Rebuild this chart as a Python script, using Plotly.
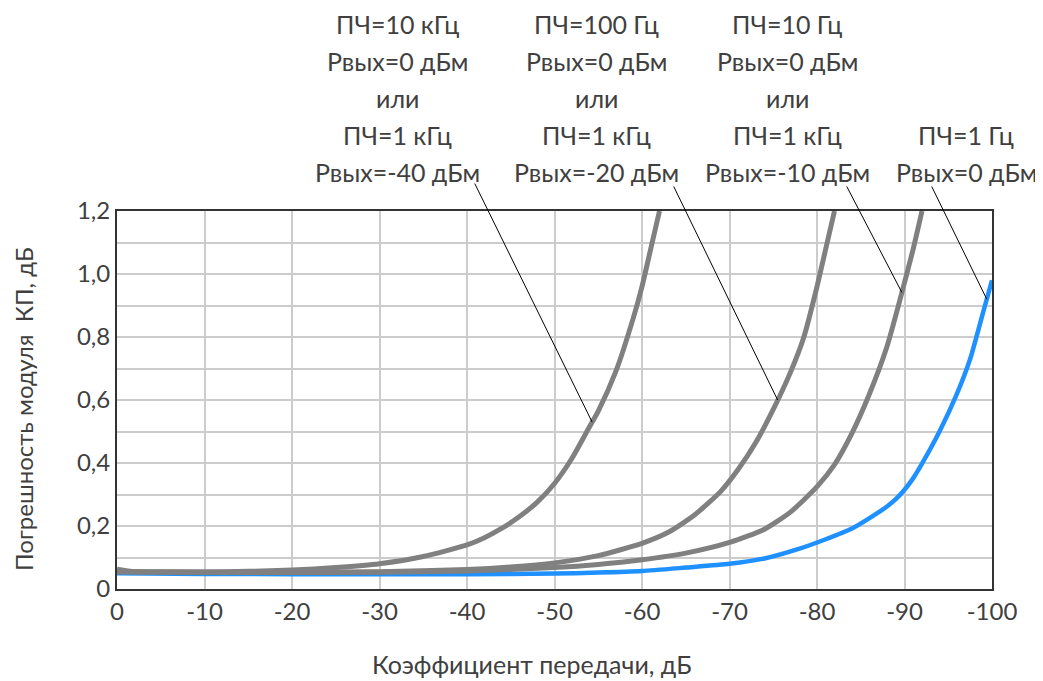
import numpy as np
import plotly.graph_objects as go

# ---- data ----
x_10k = [0, -2, -5, -10, -15, -20, -25, -30, -35, -40, -42, -44, -46, -48, -50, -52, -54, -55, -57, -59, -60, -61, -62]
y_10k = [0.063, 0.055, 0.054, 0.054, 0.056, 0.060, 0.068, 0.080, 0.103, 0.140, 0.163, 0.193, 0.230, 0.275,
         0.335, 0.415, 0.515, 0.565, 0.690, 0.860, 0.960, 1.080, 1.200]

x_100 = [0, -10, -20, -30, -40, -45, -50, -55, -60, -63, -66, -69, -71, -73, -75, -77, -78.5, -80, -81, -82]
y_100 = [0.055, 0.053, 0.053, 0.055, 0.062, 0.070, 0.083, 0.106, 0.145, 0.180, 0.235, 0.310, 0.380, 0.465,
         0.570, 0.690, 0.800, 0.960, 1.080, 1.200]

x_10 = [0, -10, -20, -30, -40, -50, -55, -60, -65, -70, -74, -77, -80, -82, -84, -86, -88, -89.5, -91, -92]
y_10 = [0.055, 0.053, 0.052, 0.053, 0.057, 0.068, 0.078, 0.093, 0.114, 0.148, 0.190, 0.245, 0.325, 0.395,
        0.495, 0.620, 0.770, 0.920, 1.080, 1.200]

x_1 = [0, -10, -20, -30, -40, -50, -55, -60, -65, -70, -74, -78, -81, -84, -86, -88, -89, -90, -91, -92,
       -94, -96, -97.5, -99, -100]
y_1 = [0.050, 0.048, 0.047, 0.047, 0.047, 0.049, 0.052, 0.057, 0.068, 0.080, 0.097, 0.128, 0.158, 0.192,
       0.225, 0.262, 0.285, 0.315, 0.352, 0.398, 0.500, 0.620, 0.730, 0.880, 0.980]

x_ticks = [0, -10, -20, -30, -40, -50, -60, -70, -80, -90, -100]
x_ticktext = ["0", "-10", "-20", "-30", "-40", "-50", "-60", "-70", "-80", "-90", "-100"]
y_ticks = [0, 0.2, 0.4, 0.6, 0.8, 1.0, 1.2]
y_ticktext = ["0", "0,2", "0,4", "0,6", "0,8", "1,0", "1,2"]

labels = [
    ["ПЧ=10 кГц", "Рвых=0 дБм", "или", "ПЧ=1 кГц", "Рвых=-40 дБм"],
    ["ПЧ=100 Гц", "Рвых=0 дБм", "или", "ПЧ=1 кГц", "Рвых=-20 дБм"],
    ["ПЧ=10 Гц", "Рвых=0 дБм", "или", "ПЧ=1 кГц", "Рвых=-10 дБм"],
    ["ПЧ=1 Гц", "Рвых=0 дБм"],
]
# where each leader line touches its curve (x on the curve)
leader_x = [-54.3, -75.5, -89.7, -99.4]

x_title = "Коэффициент передачи, дБ"
y_title = "Погрешность модуля  КП, дБ"

# ---- figure ----
GRAY = "#808080"
BLUE = "#1e90ff"
TXT = "#404040"
FONT = "Lato"

fig = go.Figure()
fig.add_trace(go.Scatter(x=x_1, y=y_1, mode="lines",
                         line=dict(color=BLUE, width=4.5, shape="spline", smoothing=0.6), showlegend=False))
for xs, ys in [(x_10, y_10), (x_100, y_100), (x_10k, y_10k)]:
    fig.add_trace(go.Scatter(x=xs, y=ys, mode="lines",
                             line=dict(color=GRAY, width=5, shape="spline", smoothing=0.6), showlegend=False))

OFF = 8  # page body margin
W, H = 1043 - OFF, 681 - OFF
ml, mr, mt, mb = 117 - OFF, 51, 211 - OFF, 92
pw, ph = W - ml - mr, H - mt - mb

def px_to_paper_x(px):
    return (px - OFF - ml) / pw

def py_to_paper_y(py):
    return (H - mb - (py - OFF)) / ph

annotations = []
label_cx = [397, 596, 787, 966]
line_y_first = [24, 24, 24, 135]
line_gap = 37
for lab, cx, y0 in zip(labels, label_cx, line_y_first):
    for i, t in enumerate(lab):
        annotations.append(dict(
            text=t, xref="paper", yref="paper",
            x=px_to_paper_x(cx), y=py_to_paper_y(y0 + i * line_gap),
            xanchor="center", yanchor="middle", showarrow=False,
            font=dict(family=FONT, size=25, color=TXT)))

# leader lines: head on the curve, tail under the label
series = [(x_10k, y_10k), (x_100, y_100), (x_10, y_10), (x_1, y_1)]
tails_px = [(474, 182), (673, 185), (846, 185), (931, 185)]
for (xs, ys), lx, (tx, ty) in zip(series, leader_x, tails_px):
    ly = float(np.interp(-lx, [-v for v in xs], ys))
    tail_x = -px_to_paper_x(tx) * 100
    tail_y = py_to_paper_y(ty) * 1.2
    annotations.append(dict(
        x=lx, y=ly, xref="x", yref="y", ax=tail_x, ay=tail_y, axref="x", ayref="y",
        text="", showarrow=True, arrowhead=0, arrowwidth=1, arrowcolor="black", standoff=0, startstandoff=0))

annotations.append(dict(text=x_title, xref="paper", yref="paper",
                        x=px_to_paper_x(532), y=py_to_paper_y(664), xanchor="center", yanchor="middle",
                        showarrow=False, font=dict(family=FONT, size=25, color=TXT)))
annotations.append(dict(text=y_title, xref="paper", yref="paper",
                        x=px_to_paper_x(23), y=py_to_paper_y(409), xanchor="center", yanchor="middle",
                        textangle=-90, showarrow=False, font=dict(family=FONT, size=24, color=TXT)))

fig.update_layout(
    width=W, height=H,
    margin=dict(l=ml, r=mr, t=mt, b=mb),
    paper_bgcolor="white", plot_bgcolor="white",
    annotations=annotations,
    xaxis=dict(range=[0, -100], tickvals=x_ticks, ticktext=x_ticktext,
               showgrid=True, gridcolor="#cccccc", gridwidth=1.5, zeroline=False,
               showline=True, linecolor="#333333", linewidth=2, mirror=True, ticks="",
               tickfont=dict(family=FONT, size=24, color=TXT)),
    yaxis=dict(range=[0, 1.2], tickvals=y_ticks, ticktext=y_ticktext,
               showgrid=True, gridcolor="#cccccc", gridwidth=1.5, zeroline=False,
               minor=dict(dtick=0.1, showgrid=True, gridcolor="#cccccc", gridwidth=1.5),
               showline=True, linecolor="#333333", linewidth=2, mirror=True, ticks="",
               tickfont=dict(family=FONT, size=24, color=TXT)),
)

fig.write_html("out.html")
